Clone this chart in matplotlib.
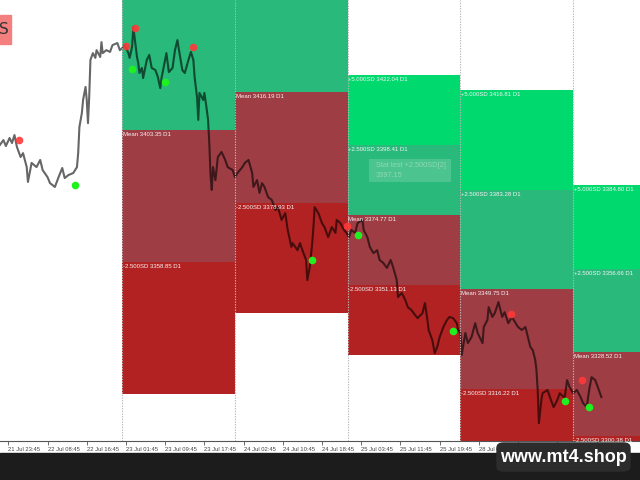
import matplotlib
matplotlib.use('Agg')
import matplotlib.pyplot as plt
from matplotlib.patches import Rectangle, FancyBboxPatch

# M15 bars (bar index) and price
bars = [-7, -4, -2, 1, 3, 5, 7, 10, 12, 15, 16, 19, 23, 26, 28, 32, 34, 38, 41, 44,
        46, 49, 53, 56, 57, 58, 60, 61, 63, 64, 65, 66, 67, 69, 71, 72, 75, 76, 77, 80,
        83, 85, 89, 91, 93, 95, 98, 99, 101, 102, 103, 105, 106, 107, 109, 110, 111, 113, 115, 117,
        120, 122, 124, 125, 126, 129, 131, 134, 136, 138, 139, 142, 144, 147, 149, 151, 152, 154, 155, 156,
        159, 160, 162, 163, 164, 165, 166, 167, 169, 171, 174, 177, 179, 183, 185, 187, 191, 193, 196, 199,
        200, 203, 205, 207, 209, 212, 215, 218, 220, 223, 226, 228, 231, 232, 236, 238, 240, 243, 244, 246,
        248, 249, 250, 253, 256, 258, 261, 264, 267, 268, 271, 274, 276, 278, 280, 283, 285, 289, 290, 293,
        295, 298, 301, 303, 306, 309, 312, 314, 317, 318, 321, 324, 326, 329, 332, 334, 338, 340, 342, 343,
        346, 348, 350, 352, 355, 358, 360, 363, 366, 367, 369, 370, 373, 375, 378, 381, 383, 387, 388, 391,
        392, 395, 397, 400, 403, 405, 408, 411, 414, 416, 419, 422, 424, 426, 428, 430, 431, 432, 433, 435,
        436, 440, 442, 445, 448, 450, 454, 456, 458, 461, 464, 467, 469, 472, 474, 476, 479, 481, 484]
prices = [3398.3, 3400.0, 3398.0, 3400.7, 3399.0, 3401.7, 3397.7, 3394.3, 3395.6, 3390.9,
          3385.9, 3392.3, 3390.9, 3393.3, 3389.9, 3387.5, 3385.5, 3384.2, 3387.5, 3390.6,
          3387.2, 3388.2, 3388.9, 3390.9, 3395.6, 3404.4, 3409.1, 3413.5, 3417.9, 3413.5,
          3405.7, 3414.5, 3427.0, 3429.3, 3427.7, 3430.3, 3428.0, 3433.0, 3429.3, 3430.3,
          3429.7, 3432.0, 3432.7, 3430.3, 3431.0, 3432.0, 3429.3, 3427.7, 3431.4, 3438.1,
          3434.7, 3428.0, 3426.0, 3422.6, 3424.3, 3420.9, 3422.9, 3427.0, 3428.7, 3424.3,
          3423.6, 3421.3, 3417.5, 3420.9, 3422.9, 3429.3, 3422.9, 3424.3, 3430.3, 3433.7,
          3431.0, 3423.6, 3422.6, 3427.0, 3429.7, 3427.0, 3421.3, 3414.5, 3406.8, 3415.9,
          3413.5, 3415.9, 3410.1, 3406.8, 3399.0, 3388.2, 3383.2, 3390.9, 3386.5, 3394.3,
          3396.0, 3393.3, 3390.9, 3389.9, 3387.5, 3388.9, 3390.9, 3392.3, 3393.3, 3388.9,
          3384.2, 3386.5, 3382.2, 3385.5, 3384.2, 3380.8, 3379.8, 3376.4, 3377.4, 3373.1,
          3375.4, 3369.7, 3364.0, 3365.3, 3362.9, 3365.3, 3362.9, 3359.6, 3352.8, 3357.2,
          3365.3, 3370.7, 3377.4, 3375.4, 3372.0, 3370.7, 3367.3, 3370.7, 3368.7, 3373.1,
          3372.0, 3369.7, 3368.7, 3367.3, 3369.7, 3368.7, 3372.0, 3373.1, 3369.7, 3367.3,
          3364.0, 3361.9, 3362.9, 3359.6, 3358.6, 3356.9, 3359.6, 3357.2, 3352.8, 3347.1,
          3348.5, 3346.1, 3343.7, 3342.7, 3341.0, 3340.0, 3341.7, 3345.1, 3339.4, 3336.0,
          3332.6, 3328.2, 3330.3, 3333.6, 3337.0, 3339.4, 3340.4, 3340.0, 3338.3, 3336.0,
          3335.0, 3327.6, 3335.0, 3331.6, 3333.6, 3338.3, 3335.0, 3331.6, 3337.0, 3339.4,
          3343.7, 3340.4, 3341.7, 3345.4, 3340.4, 3342.0, 3338.3, 3340.4, 3338.3, 3337.0,
          3336.0, 3337.0, 3333.6, 3330.3, 3329.2, 3325.9, 3322.5, 3315.8, 3304.6, 3312.4,
          3314.7, 3315.8, 3313.4, 3310.0, 3312.4, 3314.7, 3313.1, 3319.1, 3316.8, 3314.7,
          3315.8, 3313.4, 3311.4, 3310.0, 3315.8, 3320.1, 3319.1, 3316.8, 3313.4]

# swing markers
red_x = [9, 96, 103, 151, 276, 410, 468]
red_y = [3400.0, 3431.8, 3437.9, 3431.3, 3371.0, 3341.5, 3319.2]
green_x = [54, 101, 128, 248, 285, 363, 454, 474]
green_y = [3384.8, 3423.8, 3419.6, 3359.5, 3367.9, 3335.7, 3312.1, 3309.9]

# daily zones (D1)
zone_start = [93, 185, 277, 369, 461]
zone_len = 92
plus5 = [3492.35, 3490.71, 3422.04, 3416.81, 3384.80]
plus25 = [3447.85, 3453.45, 3398.41, 3383.28, 3356.66]
mean = [3403.35, 3416.19, 3374.77, 3349.75, 3328.52]
minus25 = [3358.85, 3378.93, 3351.13, 3316.22, 3300.38]
minus5 = [3314.35, 3341.67, 3327.49, 3282.69, 3272.24]

tick_bars = [0, 32, 64, 96, 128, 160, 192, 224, 256, 288, 320, 352, 384, 416, 448, 480]
tick_labels = ['21 Jul 23:45', '22 Jul 08:45', '22 Jul 16:45', '23 Jul 01:45',
               '23 Jul 09:45', '23 Jul 17:45', '24 Jul 02:45', '24 Jul 10:45',
               '24 Jul 18:45', '25 Jul 03:45', '25 Jul 11:45', '25 Jul 19:45',
               '28 Jul 04:45', '28 Jul 12:45', '28 Jul 20:45', '29 Jul 05:45']

c_bright = '#00d96e'
c_green = '#28b97b'
c_brown = '#9e3d44'
c_red = '#b22222'

fig = plt.figure(figsize=(6.4, 4.8), dpi=100)
fig.patch.set_facecolor('white')
ax = fig.add_axes([0, 39/480, 1, 441/480])
ymax, ymin = 3447.2, 3298.6
ax.set_xlim(-6.8, 515.5)
ax.set_ylim(ymin, ymax)

for i in range(len(zone_start)):
    s = zone_start[i]
    bands = [(plus25[i], plus5[i], c_bright, '+5.000SD', plus5[i]),
             (mean[i], plus25[i], c_green, '+2.500SD', plus25[i]),
             (minus25[i], mean[i], c_brown, 'Mean', mean[i]),
             (minus5[i], minus25[i], c_red, '-2.500SD', minus25[i])]
    for lo, hi, col, name, val in bands:
        ax.bar(s, hi - lo, bottom=lo, width=zone_len, align='edge', color=col,
               linewidth=0, zorder=1)
        if val < ymax:
            ax.annotate('%s %.2f D1' % (name, val), (s, val), xytext=(0.5, -1.5),
                        textcoords='offset points', fontsize=4.3, color='#f4f4f4',
                        ha='left', va='top', family='Liberation Sans', zorder=5)

for s in zone_start:
    ax.axvline(s, color='#b8b8b8', ls=(0, (1.2, 1.2)), lw=0.8, zorder=4)

ax.plot(bars, prices, color='black', alpha=0.6, lw=1.5, zorder=3)
ax.plot(red_x, red_y, 'o', color='#ff3838', ms=5.5, mec='none', alpha=0.9, zorder=6)
ax.plot(green_x, green_y, 'o', color='#1ff01f', ms=5.5, mec='none', zorder=6)

# stat test box
ax.add_patch(Rectangle((294, 3385.8), 67, 7.9, color='#56c896', alpha=0.8, lw=0, zorder=5))
ax.text(300, 3391.6, 'Stat test +2.500SD[2]', fontsize=5.3, color='#8ed8b4',
        va='center', family='Liberation Sans', zorder=6)
ax.text(300, 3387.9, '3397.15', fontsize=5.3, color='#8ed8b4',
        va='center', family='Liberation Sans', zorder=6)

ax.set_xticks(tick_bars)
ax.set_xticklabels(tick_labels, fontsize=4.2, color='#444444', ha='left',
                   family='Liberation Sans')
ax.tick_params(axis='x', direction='out', length=3, width=0.6, color='#555555', pad=1.5)
ax.set_yticks([])
for side in ['top', 'left', 'right']:
    ax.spines[side].set_visible(False)
ax.spines['bottom'].set_color('#555555')
ax.spines['bottom'].set_linewidth(0.8)

# top-left badge
fig.patches.append(Rectangle((0, 1 - 44/480), 11/640, 29/480, transform=fig.transFigure,
                             color='#f47f7f', zorder=10))
fig.text(-1/640, 1 - 30/480, 'S', fontsize=11, color='#333333', va='center', ha='left',
         zorder=11)

# dark footer with watermark
fig.patches.append(Rectangle((0, 0), 1, 27/480, transform=fig.transFigure,
                             color='#1c1c1c', zorder=0))
fig.patches.append(FancyBboxPatch((497/640, 9/480), 133/640, 28/480,
                                  boxstyle='round,pad=0,rounding_size=0.01',
                                  transform=fig.transFigure, color='#2c2c2c', zorder=1))
fig.text(563/640, 23/480, 'www.mt4.shop', fontsize=13, color='white', weight='bold',
         ha='center', va='center', family='Liberation Sans')

plt.savefig('out.png', dpi=100)
